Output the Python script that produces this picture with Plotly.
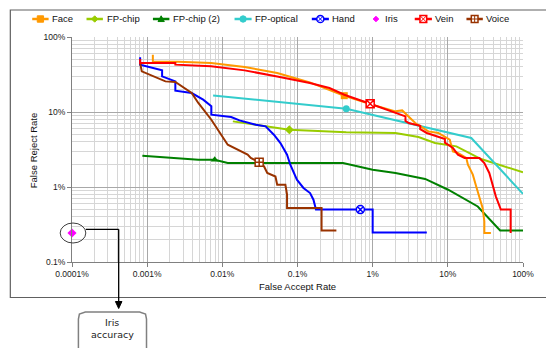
import plotly.graph_objects as go

# ---------------- data (values in percent) ----------------
SERIES = ["Face", "FP-chip", "FP-chip (2)", "FP-optical", "Hand", "Iris", "Vein", "Voice"]

FACE_X = [0.00119, 0.00119, 0.00261, 0.00708, 0.0198, 0.0537, 0.146, 0.266, 0.419, 1.10, 2.01, 2.47, 3.17,
          3.69, 5.51, 7.46, 10.6, 11.7, 13.6, 17.6, 18.5, 21.5, 23.8, 26.3, 29.0, 30.6, 30.6, 37.4]
FACE_Y = [58.1, 46.9, 46.9, 45.0, 39.8, 33.1, 24.8, 19.8, 16.5, 12.1, 10.2, 10.5, 8.32,
          7.14, 5.51, 5.25, 4.28, 2.98, 2.84, 2.44, 1.98, 1.46, 1.02, 0.713, 0.525, 0.348, 0.244, 0.244]

CHIP_X = [0.0138, 0.0293, 0.0778, 0.445, 1.35, 2.01, 4.07, 6.75, 13.0, 27.7, 100]
CHIP_Y = [7.5, 6.77, 5.81, 5.35, 5.35, 5.25, 4.64, 3.86, 3.48, 2.36, 1.57]

CHIP2_X = [0.000863, 0.00479, 0.00792, 0.0118, 0.403, 1.0, 2.01, 4.99, 10.1, 25.0, 49.6, 100]
CHIP2_Y = [2.61, 2.31, 2.31, 2.09, 2.09, 1.70, 1.54, 1.28, 0.92, 0.55, 0.264, 0.264]

OPT_X = [0.00754, 0.445, 20.5, 100]
OPT_Y = [16.6, 11.07, 4.5, 0.81]

HAND_X = [0.000806, 0.000806, 0.00158, 0.00158, 0.00237, 0.00237, 0.00391, 0.00556, 0.00714, 0.00714,
          0.0131, 0.0169, 0.0279, 0.0377, 0.0485, 0.0593, 0.0726, 0.0802, 0.0982, 0.120, 0.147, 0.163,
          0.176, 0.686, 1.0, 1.0, 5.25]
HAND_Y = [53.5, 42.8, 35.9, 29.8, 25.6, 19.2, 17.9, 14.6, 11.9, 9.2,
          8.58, 7.73, 6.77, 6.43, 4.98, 3.86, 2.70, 1.98, 1.25, 0.97, 0.83, 0.677,
          0.50, 0.50, 0.50, 0.248, 0.248]

IRIS_X = [0.0001]
IRIS_Y = [0.244]

VEIN_X = [0.000806, 0.000806, 0.00237, 0.00237, 0.00708, 0.0198, 0.0537, 0.146, 0.266, 0.419, 0.927,
          2.01, 2.73, 2.73, 3.01, 4.29, 4.29, 5.25, 9.14, 9.14, 10.1, 11.7, 13.6, 16.7, 26.3, 30.6,
          35.6, 39.3, 43.5, 50.7, 68.5, 68.5]
VEIN_Y = [50.9, 45.0, 45.0, 42.8, 40.6, 35.9, 29.8, 24.4, 20.9, 17.0, 12.9,
          9.7, 8.74, 7.6, 7.14, 6.57, 5.9, 5.25, 4.37, 3.9, 3.66, 3.31, 2.70, 2.44, 2.44, 2.09,
          1.54, 1.07, 0.75, 0.50, 0.50, 0.244]

VOICE_X = [0.000806, 0.000848, 0.00175, 0.00237, 0.00391, 0.00479, 0.00714, 0.0118, 0.0217, 0.0239,
           0.0309, 0.0359, 0.0396, 0.0509, 0.0537, 0.069, 0.0726, 0.0726, 0.209, 0.209, 0.329]
VOICE_Y = [45.0, 34.8, 25.6, 25.1, 17.9, 13.2, 7.89, 3.66, 2.70, 2.44,
           2.13, 1.88, 1.54, 1.38, 1.07, 1.07, 0.79, 0.525, 0.525, 0.264, 0.264]

X_TICKS = [0.0001, 0.001, 0.01, 0.1, 1, 10, 100]
X_LABELS = ["0.0001%", "0.001%", "0.01%", "0.1%", "1%", "10%", "100%"]
Y_TICKS = [0.1, 1, 10, 100]
Y_LABELS = ["0.1%", "1%", "10%", "100%"]

# ---------------- styles ----------------
COLORS = {"Face": "#FF9900", "FP-chip": "#99CC00", "FP-chip (2)": "#008000", "FP-optical": "#33CCCC",
          "Hand": "#0000FF", "Iris": "#FF00FF", "Vein": "#FF0000", "Voice": "#993300"}
SYMBOLS = {"Face": "square", "FP-chip": "diamond", "FP-chip (2)": "triangle-up", "FP-optical": "circle",
           "Hand": "circle-x", "Iris": "diamond", "Vein": "square-x", "Voice": "square-cross"}
HOLLOW = {"Hand", "Vein", "Voice"}

DATA = {"Face": (FACE_X, FACE_Y, 8), "FP-chip": (CHIP_X, CHIP_Y, 2), "FP-chip (2)": (CHIP2_X, CHIP2_Y, 2),
        "FP-optical": (OPT_X, OPT_Y, 1), "Hand": (HAND_X, HAND_Y, 23), "Vein": (VEIN_X, VEIN_Y, 10),
        "Voice": (VOICE_X, VOICE_Y, 10)}

W, H = 546, 348
PL, PR, PT, PB_M = 72, 17, 37, 86
PW = W - PL - PR
PH = H - PT - PB_M
PBOT = PT + PH


def P(px, py):
    return (px - PL) / PW, (PBOT - py) / PH


fig = go.Figure()

for name in ["FP-chip (2)", "FP-chip", "FP-optical", "Hand", "Voice", "Face", "Vein"]:
    xs, ys, mi = DATA[name]
    c = COLORS[name]
    fig.add_trace(go.Scatter(x=xs, y=ys, mode="lines", line=dict(color=c, width=2),
                             showlegend=False, hoverinfo="skip"))
    hollow = name in HOLLOW
    fig.add_trace(go.Scatter(x=[xs[mi]], y=[ys[mi]], mode="markers", showlegend=False,
                             marker=dict(symbol=SYMBOLS[name], size=8 if hollow else 7,
                                         color="white" if hollow else c,
                                         line=dict(color=c, width=1.5 if hollow else 0))))

fig.add_trace(go.Scatter(x=IRIS_X, y=IRIS_Y, mode="markers", showlegend=False, cliponaxis=False,
                         marker=dict(symbol="diamond", size=7, color=COLORS["Iris"])))

# ---------------- decorations ----------------
shapes = []
annotations = []


def seg(p0, p1, color, width):
    x0, y0 = P(*p0)
    x1, y1 = P(*p1)
    shapes.append(dict(type="line", xref="paper", yref="paper", x0=x0, y0=y0, x1=x1, y1=y1,
                       line=dict(color=color, width=width)))


def poly(pts, line_color, fill, width=1, close=True):
    d = ""
    for i, (px, py) in enumerate(pts):
        x, y = P(px, py)
        d += ("M" if i == 0 else "L") + f"{x:.5f},{y:.5f} "
    if close:
        d += "Z"
    shapes.append(dict(type="path", xref="paper", yref="paper", path=d, fillcolor=fill,
                       line=dict(color=line_color, width=width)))


def rect(cx, cy, s, line_color, fill, width=1):
    x0, y0 = P(cx - s, cy + s)
    x1, y1 = P(cx + s, cy - s)
    shapes.append(dict(type="rect", xref="paper", yref="paper", x0=x0, y0=y0, x1=x1, y1=y1,
                       fillcolor=fill, line=dict(color=line_color, width=width)))


def circ(cx, cy, rx, ry, line_color, fill, width=1):
    x0, y0 = P(cx - rx, cy + ry)
    x1, y1 = P(cx + rx, cy - ry)
    shapes.append(dict(type="circle", xref="paper", yref="paper", x0=x0, y0=y0, x1=x1, y1=y1,
                       fillcolor=fill, line=dict(color=line_color, width=width)))


def legend_marker(sym, cx, cy, c):
    s = 3.2
    if sym == "square":
        rect(cx, cy, s, c, c)
    elif sym == "diamond":
        poly([(cx, cy - s), (cx + s, cy), (cx, cy + s), (cx - s, cy)], c, c)
    elif sym == "triangle-up":
        poly([(cx, cy - s), (cx + s, cy + s * 0.8), (cx - s, cy + s * 0.8)], c, c)
    elif sym == "circle":
        circ(cx, cy, s, s, c, c)
    elif sym == "circle-x":
        circ(cx, cy, 3.6, 3.6, c, "white", 1.5)
        seg((cx - 2.2, cy - 2.2), (cx + 2.2, cy + 2.2), c, 1)
        seg((cx - 2.2, cy + 2.2), (cx + 2.2, cy - 2.2), c, 1)
    elif sym == "square-x":
        rect(cx, cy, 3.4, c, "white", 1.5)
        seg((cx - 3.4, cy - 3.4), (cx + 3.4, cy + 3.4), c, 1)
        seg((cx - 3.4, cy + 3.4), (cx + 3.4, cy - 3.4), c, 1)
    elif sym == "square-cross":
        rect(cx, cy, 3.4, c, "white", 1.5)
        seg((cx, cy - 3.4), (cx, cy + 3.4), c, 1)
        seg((cx - 3.4, cy), (cx + 3.4, cy), c, 1)


# legend (line start, line end, text start) in pixels
LEGEND_POS = {"Face": (31.7, 48.3, 50), "FP-chip": (86.7, 103.3, 105), "FP-chip (2)": (154, 170.7, 172.5),
              "FP-optical": (236.7, 254, 255.5), "Hand": (315, 332.3, 333.8), "Iris": (None, 380, 387.5),
              "Vein": (419.3, 436.7, 437.8), "Voice": (471.7, 488.3, 489.8)}
LEG_Y = 19
for name in SERIES:
    x0, x1, tx = LEGEND_POS[name]
    c = COLORS[name]
    if x0 is not None:
        seg((x0, LEG_Y), (x1, LEG_Y), c, 2.5)
        legend_marker(SYMBOLS[name], (x0 + x1) / 2, LEG_Y, c)
    else:
        poly([(x1, LEG_Y - 2.8), (x1 + 2.8, LEG_Y), (x1, LEG_Y + 2.8), (x1 - 2.8, LEG_Y)], c, c)
    ax, ay = P(tx, LEG_Y)
    annotations.append(dict(xref="paper", yref="paper", x=ax, y=ay, xanchor="left", yanchor="middle",
                            text=name, showarrow=False,
                            font=dict(family="Liberation Sans, Arial", size=9.5, color="#111")))

# outer chart border
bx0, by0 = P(9.5, 297.5)
bx1, by1 = P(560, 10)
shapes.append(dict(type="rect", xref="paper", yref="paper", x0=bx0, y0=by0, x1=bx1, y1=by1,
                   line=dict(color="#606060", width=1.2), fillcolor="rgba(0,0,0,0)", layer="below"))

# iris callout
circ(73, 233, 13, 10, "#404040", "rgba(0,0,0,0)", 1)
seg((86, 229.3), (119.3, 229.3), "#000", 1.3)
seg((119.3, 229.3), (119.3, 302), "#000", 1.3)
poly([(116, 301.5), (122.6, 301.5), (119.3, 308.5)], "#000", "#000")
poly([(78.5, 360), (78.5, 319), (79.5, 314), (85.5, 312), (140.5, 312), (146.5, 314), (147.5, 319),
      (147.5, 360)], "#808080", "rgba(0,0,0,0)", 1.5, close=False)
for txt, ty in [("Iris", 322.5), ("accuracy", 334)]:
    ax, ay = P(113, ty)
    annotations.append(dict(xref="paper", yref="paper", x=ax, y=ay, xanchor="center", yanchor="middle",
                            text=txt, showarrow=False,
                            font=dict(family="DejaVu Sans, Verdana", size=9.5, color="#222")))

# axis titles
ax, ay = P(300.5, 286.5)
annotations.append(dict(xref="paper", yref="paper", x=ax, y=ay, xanchor="center", yanchor="middle",
                        text="False Accept Rate", showarrow=False,
                        font=dict(family="Liberation Sans, Arial", size=9.5, color="#111")))
ax, ay = P(32.7, 150)
annotations.append(dict(xref="paper", yref="paper", x=ax, y=ay, xanchor="center", yanchor="middle",
                        text="False Reject Rate", showarrow=False, textangle=-90,
                        font=dict(family="Liberation Sans, Arial", size=9.5, color="#111")))

minor_x = [m * 10.0 ** e for e in range(-4, 2) for m in range(2, 10)]
minor_y = [m * 10.0 ** e for e in range(-1, 2) for m in range(2, 10)]

tickfont = dict(family="Liberation Sans, Arial", size=8.5, color="#1a1a1a")
fig.update_layout(
    width=W, height=H, margin=dict(l=PL, r=PR, t=PT, b=PB_M),
    paper_bgcolor="white", plot_bgcolor="white", showlegend=False,
    shapes=shapes, annotations=annotations,
    xaxis=dict(type="log", range=[-4, 2], tickmode="array", tickvals=X_TICKS, ticktext=X_LABELS,
               showgrid=True, gridcolor="#a8a8a8", gridwidth=1, zeroline=False,
               showline=True, linecolor="#808080", linewidth=1, ticks="outside", ticklen=4,
               tickcolor="#808080", tickfont=tickfont,
               minor=dict(tickmode="array", tickvals=minor_x, showgrid=True, gridcolor="#d6d6d6",
                          gridwidth=1, ticks="")),
    yaxis=dict(type="log", range=[-1, 2], tickmode="array", tickvals=Y_TICKS, ticktext=Y_LABELS,
               showgrid=True, gridcolor="#a8a8a8", gridwidth=1, zeroline=False,
               showline=True, linecolor="#808080", linewidth=1, ticks="outside", ticklen=4,
               tickcolor="#808080", tickfont=tickfont,
               minor=dict(tickmode="array", tickvals=minor_y, showgrid=True, gridcolor="#d6d6d6",
                          gridwidth=1, ticks="")),
)

fig.write_html("out.html", config={"displayModeBar": False},
               post_script="document.body.style.margin='0px';"
                           "document.body.style.overflow='hidden';")
